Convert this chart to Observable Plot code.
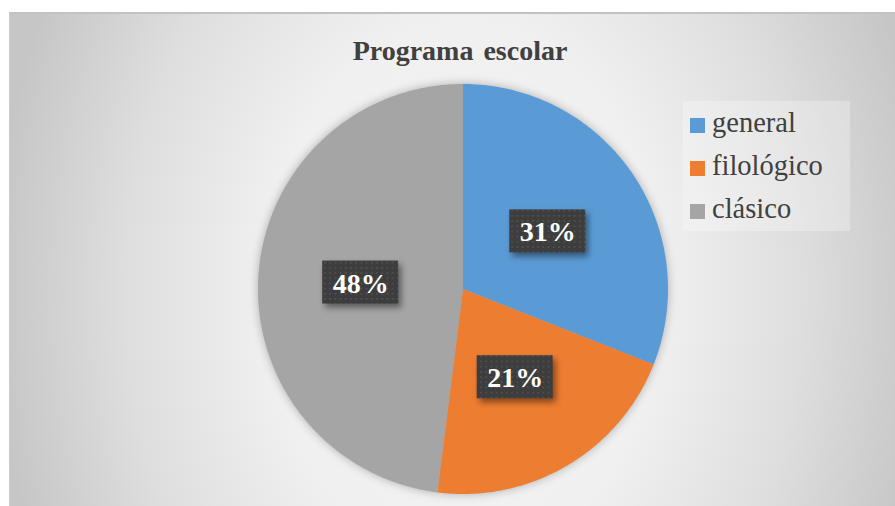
<!DOCTYPE html>
<html><head><meta charset="utf-8">
<script src="https://cdn.jsdelivr.net/npm/d3@7"></script>
<script src="https://cdn.jsdelivr.net/npm/@observablehq/plot@0.6"></script>
<style>
body{margin:0;background:#fff;width:895px;height:506px;overflow:hidden;position:relative;font-family:"Liberation Serif","Times New Roman",serif;}
#bg{position:absolute;left:9px;top:12px;width:886px;height:494px;box-sizing:border-box;border-top:2px solid #c2c2c2;border-left:1px solid #cacaca;
background:radial-gradient(ellipse 470px 640px at 453px 278px,#f4f4f4 0%,#f0f0f0 42%,#dedede 72%,#c6c6c6 100%);}
#title{position:absolute;left:0;width:920px;top:36.5px;text-align:center;font-size:28px;line-height:28px;font-weight:bold;color:#404040;word-spacing:3px;}
#legendbox{position:absolute;left:683px;top:101px;width:167px;height:130px;background:rgba(255,255,255,0.28);}
.sw{position:absolute;width:15px;height:15px;}
.lt{position:absolute;font-size:28.5px;line-height:28.5px;color:#404040;white-space:nowrap;}
#chart{position:absolute;left:0;top:0;}
</style></head>
<body>
<div id="bg"></div>
<div id="title">Programa escolar</div>
<div id="legendbox"></div>
<div id="legend"></div>
<div id="chart"></div>
<script>
const categories = ["general", "filológico", "clásico"];
const values = [31, 21, 48];
const colors = ["#5b9bd5", "#ed7d31", "#a5a5a5"];
const labels = values.map(v => v + "%");

// pie geometry from the data
const arcs = d3.pie().sort(null).value(d => d)(values);
const wedgePts = [];
arcs.forEach((a, i) => {
  const cat = categories[i];
  wedgePts.push({cat, x: 0, y: 0});
  const steps = Math.max(2, Math.ceil((a.endAngle - a.startAngle) / (Math.PI / 360)));
  for (let k = 0; k <= steps; k++) {
    const t = a.startAngle + (a.endAngle - a.startAngle) * k / steps;
    wedgePts.push({cat, x: Math.sin(t), y: Math.cos(t)});
  }
});
const R = 205;
const bw = 38 / R, bh = 21.5 / R;
const labelData = arcs.map((a, i) => {
  const m = (a.startAngle + a.endAngle) / 2;
  return {cat: categories[i], label: labels[i], x: 0.5 * Math.sin(m), y: 0.5 * Math.cos(m)};
});

const plot = Plot.plot({
  width: 895, height: 506,
  marginLeft: 257.5, marginRight: 227.5, marginTop: 83.5, marginBottom: 12.5,
  x: {domain: [-1, 1], axis: null},
  y: {domain: [-1, 1], axis: null},
  color: {domain: categories, range: colors},
  style: {background: "transparent", overflow: "visible"},
  marks: [
    Plot.line(wedgePts, {x: "x", y: "y", z: "cat", fill: "cat", stroke: "none", curve: "linear-closed"}),
    Plot.rect(labelData, {x1: d => d.x - bw, x2: d => d.x + bw, y1: d => d.y - bh, y2: d => d.y + bh, fill: "url(#dots)"}),
    Plot.text(labelData, {x: "x", y: "y", text: "label", fill: "white", fontSize: 28, fontWeight: "bold", fontFamily: "Liberation Serif, Times New Roman, serif", dy: 1})
  ]
});
const svg = d3.select(plot);
svg.append("defs").html(`<pattern id="dots" width="5.2" height="5.2" patternUnits="userSpaceOnUse"><rect width="5.2" height="5.2" fill="#3d3d3d"/><circle cx="2.6" cy="2.6" r="0.8" fill="#585858"/></pattern>`);
svg.select('g[aria-label="line"]').style("filter", "drop-shadow(0px 0px 5px rgba(0,0,0,0.28))");
svg.select('g[aria-label="rect"]').style("filter", "drop-shadow(3px 4px 3px rgba(0,0,0,0.45))");
document.getElementById("chart").appendChild(plot);

// legend
const leg = d3.select("#legend");
categories.forEach((c, i) => {
  const base = 133 + i * 43;
  leg.append("div").attr("class", "sw").style("left", "690px").style("top", (base - 15) + "px").style("background", colors[i]);
  leg.append("div").attr("class", "lt").style("left", "712px").style("top", (base - 23.9) + "px").text(c);
});
</script>
</body></html>
